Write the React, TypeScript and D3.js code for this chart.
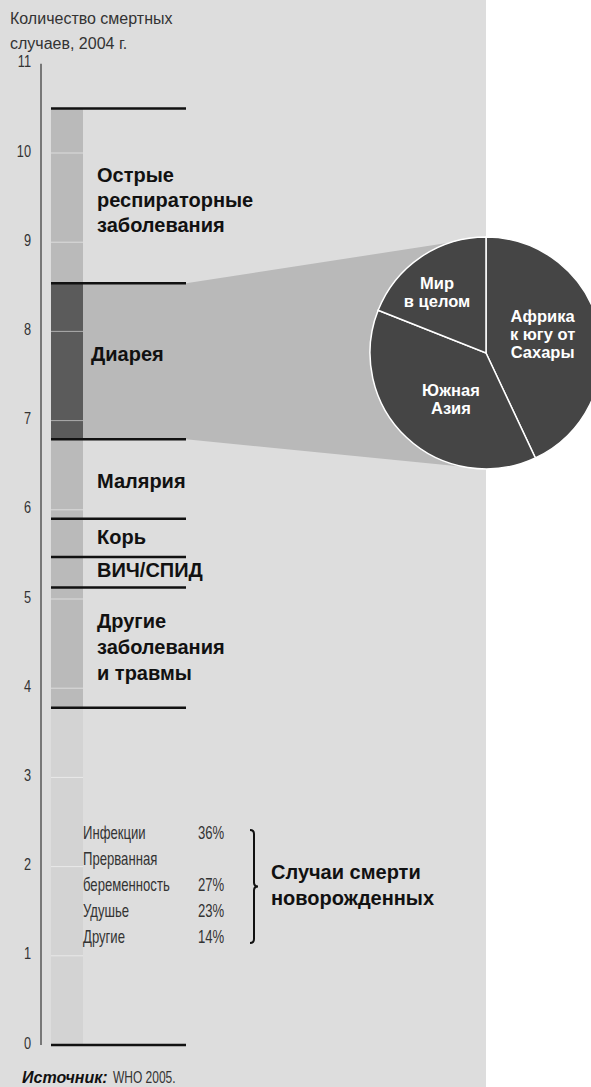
import React from "react";
import * as d3 from "d3";

// ---- Data ----
const causes = [
  "Случаи смерти новорожденных",
  "Другие заболевания и травмы",
  "ВИЧ/СПИД",
  "Корь",
  "Малярия",
  "Диарея",
  "Острые респираторные заболевания",
];
const deaths = [3.78, 1.35, 0.34, 0.43, 0.89, 1.75, 1.96]; // millions, 2004
const causeLabelLines = [
  [],
  ["Другие", "заболевания", "и травмы"],
  ["ВИЧ/СПИД"],
  ["Корь"],
  ["Малярия"],
  ["Диарея"],
  ["Острые", "респираторные", "заболевания"],
];
const yTicks = [0, 1, 2, 3, 4, 5, 6, 7, 8, 9, 10, 11];

const neonatalCauses = ["Инфекции", "Прерванная беременность", "Удушье", "Другие"];
const neonatalShares = [36, 27, 23, 14];

const regions = ["Африка к югу от Сахары", "Южная Азия", "Мир в целом"];
const regionShares = [43, 38, 19];
const regionLabelLines = [
  ["Африка", "к югу от", "Сахары"],
  ["Южная", "Азия"],
  ["Мир", "в целом"],
];

// ---- Layout ----
const W = 591;
const H = 1087;
const PANEL_W = 486;
const BAR_X0 = 51;
const BAR_X1 = 83;
const LINE_X1 = 186;
const AXIS_X = 41;
const LABEL_X = 97;
const labelDx = [0, 0, 0, 0, 0, -6, 0];
const labelDy = [0, 0, -1.5, 0, 2.5, -7, 5];
const PIE_CX = 486;
const PIE_CY = 353;
const PIE_R = 116;
const pieLabelR = [58, 60, 72];
const pieLabelDx = [0, 6, -8.5];
const pieLabelDy = [-6, 2.5, -1];

const SANS = "'Liberation Sans', Arial, Helvetica, sans-serif";
const NARROW_SCALE = 0.75;

function Narrow({
  x,
  y,
  size,
  anchor = "start",
  fill = "#333",
  children,
}: {
  x: number;
  y: number;
  size: number;
  anchor?: string;
  fill?: string;
  children: React.ReactNode;
}) {
  return (
    <text
      transform={`translate(${x},${y}) scale(${NARROW_SCALE},1)`}
      textAnchor={anchor}
      fontFamily={SANS}
      fontSize={size}
      fill={fill}
    >
      {children}
    </text>
  );
}

export default function App() {
  const y = d3.scaleLinear().domain([0, 11]).range([1045, 63.8]);

  const cum = d3.cumsum(deaths);
  const segs = deaths.map((v, i) => ({
    name: causes[i],
    y0: i === 0 ? 0 : cum[i - 1],
    y1: cum[i],
    i,
  }));
  const diarrhea = segs[5];
  const total = cum[cum.length - 1];

  const pie = d3
    .pie<number>()
    .sort(null)
    .value((d) => d)
    .startAngle(0)
    .endAngle(2 * Math.PI);
  const arcs = pie(regionShares);
  const arc = d3.arc<d3.PieArcDatum<number>>().innerRadius(0).outerRadius(PIE_R);

  const funnel = [
    [BAR_X1, y(diarrhea.y1)],
    [LINE_X1, y(diarrhea.y1)],
    [PIE_CX, PIE_CY - PIE_R],
    [PIE_CX, PIE_CY + PIE_R],
    [LINE_X1, y(diarrhea.y0)],
    [BAR_X1, y(diarrhea.y0)],
  ];

  const segColor = (i: number) => (i === 0 ? "#d3d3d3" : i === 5 ? "#5b5b5b" : "#bababa");

  // neonatal legend
  const legendLines: { text: string; pct?: number }[] = [];
  neonatalCauses.forEach((c, i) => {
    const parts = c.split(" ");
    if (parts.length > 1 && c.length > 12) {
      legendLines.push({ text: parts[0] });
      legendLines.push({ text: parts.slice(1).join(" "), pct: neonatalShares[i] });
    } else legendLines.push({ text: c, pct: neonatalShares[i] });
  });
  const LEG_Y0 = 839;
  const LEG_DY = 26;
  const bTop = 830;
  const bBot = 943;
  const bMid = (bTop + bBot) / 2;
  const bx = 254;
  const bracket = `M${bx - 4},${bTop} Q${bx},${bTop} ${bx},${bTop + 4} L${bx},${bMid - 4} Q${bx},${bMid} ${bx + 4},${bMid} Q${bx},${bMid} ${bx},${bMid + 4} L${bx},${bBot - 4} Q${bx},${bBot} ${bx - 4},${bBot}`;

  return (
    <svg
      width={W}
      height={H}
      style={{ position: "absolute", left: 0, top: 0, background: "#ffffff" }}
    >
      <rect x={0} y={0} width={PANEL_W} height={H} fill="#dddddd" />

      {/* header */}
      <text x={10} y={24} fontFamily={SANS} fontSize={16} fill="#333">
        Количество смертных
      </text>
      <text x={10} y={49} fontFamily={SANS} fontSize={16} fill="#333">
        случаев, 2004 г.
      </text>

      {/* axis */}
      <line x1={AXIS_X} x2={AXIS_X} y1={y(11)} y2={y(0)} stroke="#555" strokeWidth={1.5} />
      {yTicks.map((t) => (
        <Narrow key={t} x={31} y={y(t) + 3.5} size={17} anchor="end">
          {t}
        </Narrow>
      ))}

      {/* funnel */}
      <polygon points={funnel.map((p) => p.join(",")).join(" ")} fill="#b9b9b9" />

      {/* bar segments */}
      {segs.map((s) => (
        <rect
          key={s.name}
          x={BAR_X0}
          width={BAR_X1 - BAR_X0}
          y={y(s.y1)}
          height={y(s.y0) - y(s.y1)}
          fill={segColor(s.i)}
        />
      ))}
      {yTicks
        .filter((t) => t > 0 && t < total)
        .map((t) => (
          <line
            key={t}
            x1={BAR_X0}
            x2={BAR_X1}
            y1={y(t)}
            y2={y(t)}
            stroke="#ffffff"
            strokeOpacity={0.5}
            strokeWidth={1}
          />
        ))}

      {/* boundary lines */}
      {[0, ...cum].map((v, i) => (
        <line key={i} x1={BAR_X0} x2={LINE_X1} y1={y(v)} y2={y(v)} stroke="#111" strokeWidth={2.5} />
      ))}

      {/* cause labels */}
      {segs.map((s) => {
        const lines = causeLabelLines[s.i];
        if (!lines.length) return null;
        const lh = s.i === 1 ? 26 : 25;
        const c = (y(s.y0) + y(s.y1)) / 2;
        const first = c - ((lines.length - 1) * lh) / 2 + 6.5 + labelDy[s.i];
        return (
          <text
            key={s.name}
            x={LABEL_X + labelDx[s.i]}
            fontFamily={SANS}
            fontWeight="bold"
            fontSize={20}
            fill="#111"
          >
            {lines.map((l, k) => (
              <tspan key={k} x={LABEL_X + labelDx[s.i]} y={first + k * lh}>
                {l}
              </tspan>
            ))}
          </text>
        );
      })}

      {/* neonatal legend */}
      {legendLines.map((l, k) => (
        <g key={k}>
          <Narrow x={83} y={LEG_Y0 + k * LEG_DY} size={17.5}>
            {l.text}
          </Narrow>
          {l.pct !== undefined && (
            <Narrow x={198} y={LEG_Y0 + k * LEG_DY} size={17.5}>
              {l.pct}%
            </Narrow>
          )}
        </g>
      ))}
      <path d={bracket} fill="none" stroke="#111" strokeWidth={2} />
      <text fontFamily={SANS} fontWeight="bold" fontSize={20} fill="#111">
        <tspan x={271} y={879}>
          Случаи смерти
        </tspan>
        <tspan x={271} y={905}>
          новорожденных
        </tspan>
      </text>

      {/* pie */}
      <g transform={`translate(${PIE_CX},${PIE_CY})`}>
        {arcs.map((a, i) => (
          <path key={regions[i]} d={arc(a) || ""} fill="#454545" stroke="#ffffff" strokeWidth={1.5} />
        ))}
        {arcs.map((a, i) => {
          const mid = (a.startAngle + a.endAngle) / 2;
          const cx = pieLabelR[i] * Math.sin(mid) + pieLabelDx[i];
          const cy = -pieLabelR[i] * Math.cos(mid) + pieLabelDy[i];
          const lines = regionLabelLines[i];
          const lh = 18;
          const first = cy - ((lines.length - 1) * lh) / 2 + 5.5;
          return (
            <text
              key={i}
              textAnchor="middle"
              fontFamily={SANS}
              fontWeight="bold"
              fontSize={16.5}
              fill="#ffffff"
            >
              {lines.map((l, k) => (
                <tspan key={k} x={cx} y={first + k * lh}>
                  {l}
                </tspan>
              ))}
            </text>
          );
        })}
      </g>

      {/* source */}
      <text x={22} y={1083} fontFamily={SANS} fontStyle="italic" fontWeight="bold" fontSize={16} fill="#111">
        Источник:
      </text>
      <Narrow x={113} y={1083} size={16}>
        WHO 2005.
      </Narrow>
    </svg>
  );
}
